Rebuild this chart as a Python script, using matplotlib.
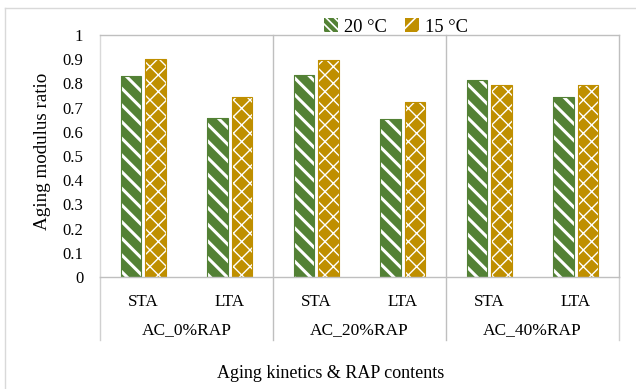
import matplotlib
matplotlib.use("Agg")
import matplotlib.pyplot as plt
from matplotlib.patches import Patch
from matplotlib.lines import Line2D
import numpy as np

plt.rcParams['font.family'] = ['Liberation Serif', 'DejaVu Serif']

kinetics = ["STA", "LTA", "STA", "LTA", "STA", "LTA"]
groups = ["AC_0%RAP", "AC_20%RAP", "AC_40%RAP"]
series_names = ["20 °C", "15 °C"]
vals_20 = [0.829, 0.658, 0.835, 0.651, 0.813, 0.745]
vals_15 = [0.900, 0.745, 0.898, 0.725, 0.795, 0.795]
yticks = [0, 0.1, 0.2, 0.3, 0.4, 0.5, 0.6, 0.7, 0.8, 0.9, 1]
ytick_labels = ["0", "0.1", "0.2", "0.3", "0.4", "0.5", "0.6", "0.7", "0.8", "0.9", "1"]

green = "#538135"
gold = "#BF8F00"
grid_c = "#BFBFBF"

fig = plt.figure(figsize=(6.36, 3.89), dpi=100)
ax = fig.add_axes([100/636, 1-277/389, 519/636, 242/389])

x = np.arange(len(kinetics))
w = 0.235
off = 0.14

def hbar(xpos, vals, color, hatch, hlw):
    bars = ax.bar(xpos, vals, w, color=color, edgecolor="white", hatch=hatch, linewidth=0)
    for p in bars:
        if hasattr(p, "set_hatch_linewidth"):
            p.set_hatch_linewidth(hlw)
    ax.bar(xpos, vals, w, fill=False, edgecolor=color, linewidth=0.8)
    return bars

plt.rcParams['hatch.linewidth'] = 2.2
hbar(x - off, vals_20, green, "\\\\", 2.2)
plt.rcParams['hatch.linewidth'] = 1.0
hbar(x + off, vals_15, gold, "xx", 1.0)

ax.set_xlim(-0.5, 5.5)
ax.set_ylim(0, 1)
ax.set_yticks(yticks)
ax.set_yticklabels(ytick_labels, fontsize=12)
ax.set_xticks(x)
ax.set_xticklabels(kinetics, fontsize=12.3)
ax.tick_params(axis="y", length=0, pad=12)
ax.tick_params(axis="x", length=0, pad=12)
for s in ax.spines.values():
    s.set_color(grid_c)
    s.set_linewidth(1.0)
ax.spines["left"].set_color("#D9D9D9")

# group separators and category-axis lines
ext = -(340-277)/242
trans = ax.get_xaxis_transform()
for xv in [-0.5, 1.5, 3.5, 5.5]:
    top = 1 if xv in (1.5, 3.5) else 0
    ax.plot([xv, xv], [ext, top], color="#D0D0D0" if top == 0 else grid_c,
            lw=1.0, transform=trans, clip_on=False)
for i, g in enumerate(groups):
    ax.text(2*i + 0.5, -(330-277)/242, g, transform=trans, ha="center", va="center",
            fontsize=12.5)

fig.text(43/636, 1-151/389, "Aging modulus ratio", rotation=90, ha="center", va="center",
         fontsize=13.7)
fig.text(331/636, 1-373/389, "Aging kinetics & RAP contents", ha="center", va="center",
         fontsize=13)

# legend
plt.rcParams['hatch.linewidth'] = 1.2
handles = [Patch(facecolor=green, edgecolor="white", hatch="\\\\\\\\", linewidth=0),
           Patch(facecolor=gold, edgecolor="white", hatch="//", linewidth=0)]
ax.legend(handles, series_names, loc="center", bbox_to_anchor=(396/636, 1-27/389),
          bbox_transform=fig.transFigure, ncol=2, frameon=False, fontsize=13.3,
          handlelength=0.75, handleheight=0.75, handletextpad=0.3, columnspacing=1.0)

# outer chart frame (top and left visible)
fig.add_artist(Line2D([5/636, 1.0], [1-8/389, 1-8/389], color="#D9D9D9", lw=1.0,
                      transform=fig.transFigure))
fig.add_artist(Line2D([5/636, 5/636], [0, 1-8/389], color="#D9D9D9", lw=1.0,
                      transform=fig.transFigure))

fig.savefig("out.png", dpi=100)
